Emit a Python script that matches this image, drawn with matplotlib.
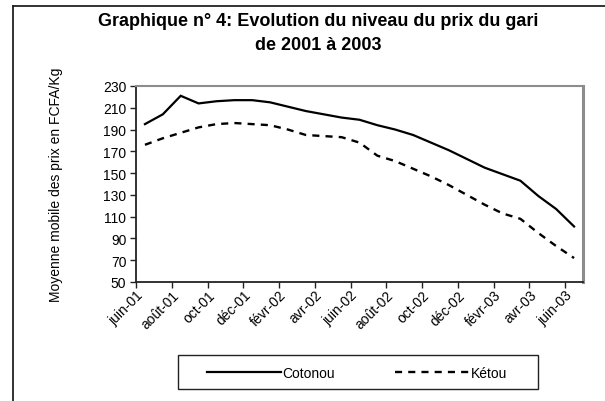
import matplotlib
matplotlib.use("Agg")
import matplotlib.pyplot as plt
from matplotlib.lines import Line2D
from matplotlib.patches import Rectangle
import matplotlib.transforms as mtransforms

plt.rcParams['font.family'] = ['Liberation Sans', 'DejaVu Sans']

months = ["juin-01", "juil-01", "août-01", "sept-01", "oct-01", "nov-01", "déc-01",
          "janv-02", "févr-02", "mars-02", "avr-02", "mai-02", "juin-02", "juil-02",
          "août-02", "sept-02", "oct-02", "nov-02", "déc-02", "janv-03", "févr-03",
          "mars-03", "avr-03", "mai-03", "juin-03"]
cotonou = [195, 204, 221, 214, 216, 217, 217, 215, 211, 207, 204, 201, 199, 194,
           190, 185, 178, 171, 163, 155, 149, 143, 129, 117, 101]
ketou = [176, 182, 187, 192, 195, 196, 195, 194, 190, 185, 184, 183, 178, 166,
         161, 154, 147, 139, 130, 121, 113, 108, 95, 83, 72]
yticks = [50, 70, 90, 110, 130, 150, 170, 190, 210, 230]

W, H = 605, 402
fig = plt.figure(figsize=(W / 100, H / 100), dpi=100)

def fx(px):
    return px / W

def fy(py):
    return 1 - py / H

ax = fig.add_axes([fx(136), fy(283), fx(583) - fx(136), fy(87) - fy(283)])
x = list(range(len(months)))
ax.plot(x, cotonou, color='black', lw=1.6, solid_joinstyle='miter', label='Cotonou')
ax.plot(x, ketou, color='black', lw=1.7, dashes=(3, 2.6), label='Kétou')

ax.set_xlim(-0.5, len(months) - 0.5)
ax.set_ylim(50, 230)
ax.set_yticks(yticks)
ax.set_yticklabels([str(v) for v in yticks], fontsize=10)

tick_pos = [i - 0.5 for i in range(0, len(months), 2)]
tick_labels = months[0::2]
ax.set_xticks(tick_pos)
ax.set_xticklabels(tick_labels, fontsize=10, rotation=45, ha='right', va='top',
                   rotation_mode='anchor')
for lab in ax.get_xticklabels():
    lab.set_transform(lab.get_transform() +
                      mtransforms.ScaledTranslation(-3 / 100, -6 / 100, fig.dpi_scale_trans))

ax.tick_params(axis='both', direction='out', length=4, width=1, color='#222222', pad=3)
ax.tick_params(axis='x', pad=0)

for s in ['left', 'bottom']:
    ax.spines[s].set_color('#222222')
    ax.spines[s].set_linewidth(1.3)
ax.spines['top'].set_color('#8c8c8c')
ax.spines['top'].set_linewidth(1.5)
ax.spines['right'].set_color('#8c8c8c')
ax.spines['right'].set_linewidth(2.2)

ax.set_ylabel('Moyenne mobile des prix en FCFA/Kg', fontsize=10)
ax.yaxis.set_label_coords(fx(63), fy(185), transform=fig.transFigure)

fig.text(fx(318), fy(22), 'Graphique n° 4: Evolution du niveau du prix du gari',
         ha='center', va='center', fontsize=13, fontweight='bold')
fig.text(fx(318), fy(46), 'de 2001 à 2003', ha='center', va='center',
         fontsize=13, fontweight='bold')

# legend frame
fig.patches.append(Rectangle((fx(178), fy(390)), fx(538) - fx(178), fy(356) - fy(390),
                             transform=fig.transFigure, fill=False, edgecolor='#222222',
                             lw=1.0))
handles, labels = ax.get_legend_handles_labels()
fig.legend(handles, labels, loc='center left', bbox_to_anchor=(fx(207), fy(374)),
           ncol=2, frameon=False, fontsize=10, borderpad=0, borderaxespad=0,
           handlelength=5.3, handletextpad=0.15, columnspacing=4.3)

# outer chart border (left and top)
fig.add_artist(Line2D([fx(13), fx(13)], [fy(7), 0], transform=fig.transFigure,
                      color='#222222', lw=1.3))
fig.add_artist(Line2D([fx(13), 1], [fy(7), fy(7)], transform=fig.transFigure,
                      color='#222222', lw=1.3))

fig.savefig('out.png', dpi=100)
